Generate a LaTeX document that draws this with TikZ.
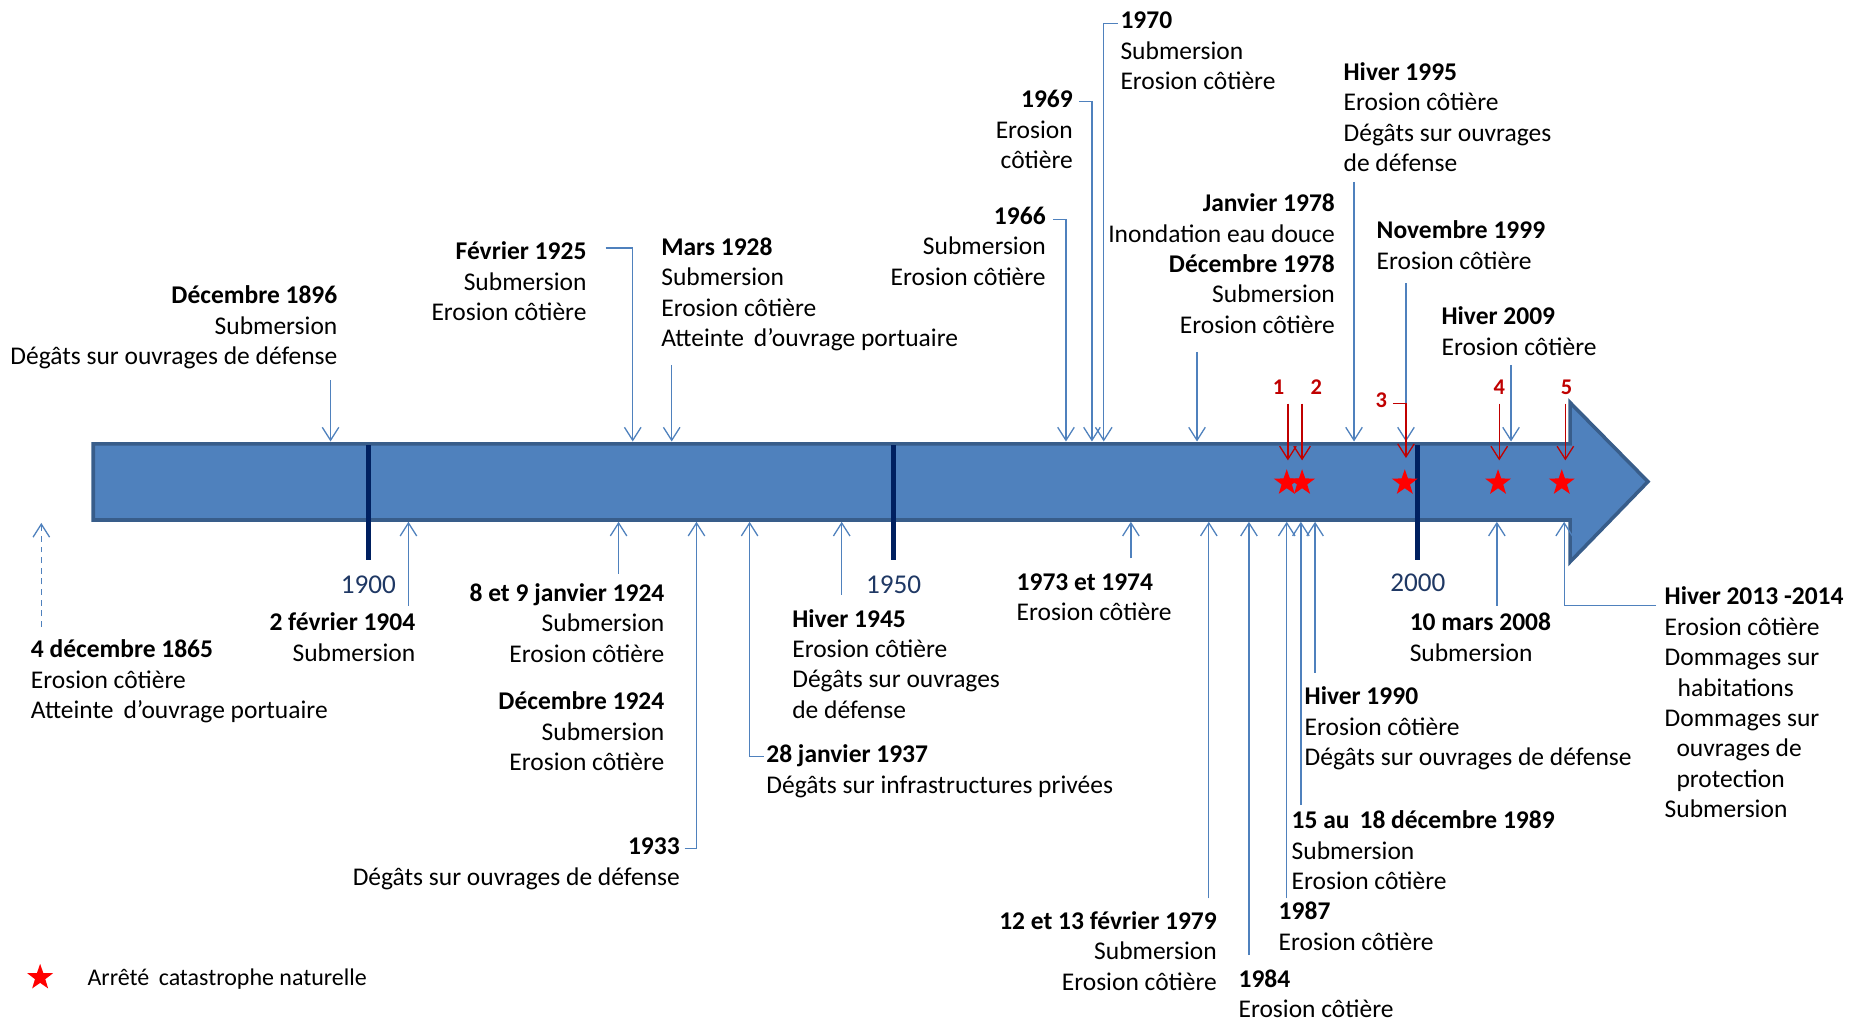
\documentclass[tikz,border=0pt]{standalone}
\usepackage{fontspec}
\setmainfont{Carlito}
\usetikzlibrary{arrows.meta,shapes.geometric}
\definecolor{barfill}{RGB}{79,129,189}
\definecolor{barline}{RGB}{56,93,138}
\definecolor{tickc}{RGB}{0,32,96}
\definecolor{yearc}{RGB}{31,56,100}
\definecolor{connc}{RGB}{79,129,189}
\definecolor{redarr}{RGB}{192,0,0}
\definecolor{starc}{RGB}{255,0,0}
\newcommand\fst{\rule{0pt}{20pt}}
\begin{document}
\begin{tikzpicture}[x=1pt,y=-1pt,
  txt/.style={inner sep=0pt, font=\fontsize{21.6}{25.8}\selectfont},
  tl/.style={txt, anchor=north west, align=left},
  tr/.style={txt, anchor=north east, align=right},
  conn/.style={draw=connc, line width=1.1pt, -{Straight Barb[length=11pt,width=14pt]}},
  rconn/.style={draw=redarr, line width=1.1pt, -{Straight Barb[length=11pt,width=14pt]}},
  yearlbl/.style={inner sep=0pt, font=\fontsize{23}{26}\selectfont, text=yearc},
  numlbl/.style={inner sep=0pt, font=\fontsize{19}{22}\selectfont\bfseries, text=redarr},
  tickline/.style={draw=tickc, line width=4.5pt},
  cstar/.style={star, star points=5, star point ratio=2.5, fill=starc, draw=none, minimum size=23pt, inner sep=0pt}
]
\useasboundingbox (0,0) rectangle (1568,864.05);

% bar arrow
\draw[fill=barfill, draw=barline, line width=3pt, line join=miter]
  (79,376) -- (1330,376) -- (1330,341) -- (1396,408) -- (1330,476) -- (1330,440.5) -- (79,440.5) -- cycle;

% ticks
\draw[tickline] (312,377) -- (312,474);
\draw[tickline] (757,377) -- (757,474);
\draw[tickline] (1201,377) -- (1201,474);
\node[yearlbl] (y1900) at (312,495) {1900};
\node[yearlbl] (y1950) at (757,495) {1950};
\node[yearlbl] (y2000) at (1201,494) {2000};

% ---------- texts above ----------
\node[tr] (t1896) at (286,237) {\fst\textbf{Décembre 1896}\\Submersion\\Dégâts sur ouvrages de défense};
\node[tr] (t1925) at (497,200) {\fst\textbf{Février 1925}\\Submersion\\Erosion côtière};
\node[tl] (t1928) at (560,196) {\fst\textbf{Mars 1928}\\Submersion\\Erosion côtière\\Atteinte \,d’ouvrage portuaire};
\node[tr] (t1966) at (886,170) {\fst\textbf{1966}\\Submersion\\Erosion côtière};
\node[tr] (t1969) at (909,71) {\fst\textbf{1969}\\Erosion\\côtière};
\node[tl] (t1970) at (949,4) {\fst\textbf{1970}\\Submersion\\Erosion côtière};
\node[tr] (t1978) at (1131,159) {\fst\textbf{Janvier 1978}\\Inondation eau douce\\\textbf{Décembre 1978}\\Submersion\\Erosion côtière};
\node[tl] (t1995) at (1138,48) {\fst\textbf{Hiver 1995}\\Erosion côtière\\Dégâts sur ouvrages\\de défense};
\node[tl] (t1999) at (1166,182) {\fst\textbf{Novembre 1999}\\Erosion côtière};
\node[tl] (t2009) at (1221,255) {\fst\textbf{Hiver 2009}\\Erosion côtière};

% ---------- texts below ----------
\node[tl] (t1865) at (26,537) {\fst\textbf{4 décembre 1865}\\Erosion côtière\\Atteinte \,d’ouvrage portuaire};
\node[tr] (t1904) at (352,514) {\fst\textbf{2 février 1904}\\Submersion};
\node[tr] (t1924a) at (563,489) {\fst\textbf{8 et 9 janvier 1924}\\Submersion\\Erosion côtière};
\node[tr] (t1924b) at (563,581) {\fst\textbf{Décembre 1924}\\Submersion\\Erosion côtière};
\node[tr] (t1933) at (576,704) {\fst\textbf{1933}\\Dégâts sur ouvrages de défense};
\node[tl] (t1937) at (649,626) {\fst\textbf{28 janvier 1937}\\Dégâts sur infrastructures privées};
\node[tl] (t1945) at (671,511) {\fst\textbf{Hiver 1945}\\Erosion côtière\\Dégâts sur ouvrages\\de défense};
\node[tl] (t1973) at (861,480) {\fst\textbf{1973 et 1974}\\Erosion côtière};
\node[tr] (t1979) at (1031,767) {\fst\textbf{12 et 13 février 1979}\\Submersion\\Erosion côtière};
\node[tl] (t1984) at (1049,816) {\fst\textbf{1984}\\Erosion côtière};
\node[tl] (t1987) at (1083,759) {\fst\textbf{1987}\\Erosion côtière};
\node[tl] (t1989) at (1094,682) {\fst\textbf{15 au \,18 décembre 1989}\\Submersion\\Erosion côtière};
\node[tl] (t1990) at (1105,577) {\fst\textbf{Hiver 1990}\\Erosion côtière\\Dégâts sur ouvrages de défense};
\node[tl] (t2008) at (1194,514) {\fst\textbf{10 mars 2008}\\Submersion};
\node[tl] (t2013) at (1410,492) {\fst\textbf{Hiver 2013 -2014}\\Erosion côtière\\Dommages sur\\\hspace*{11pt}habitations\\Dommages sur\\\hspace*{10pt}ouvrages de\\\hspace*{10pt}protection\\Submersion};

% ---------- coordinates ----------
% top
\coordinate (a1896s) at (280,322);   \coordinate (a1896e) at (280,374);
\coordinate (a1925s) at (513,210);   \coordinate (a1925e) at (536,374);
\coordinate (a1928s) at (569,309);   \coordinate (a1928e) at (569,374);
\coordinate (a1966s) at (892,186);   \coordinate (a1966e) at (903,374);
\coordinate (a1969s) at (914,86);    \coordinate (a1969e) at (925,374);
\coordinate (a1970s) at (947,20);    \coordinate (a1970e) at (935,374);
\coordinate (a1978s) at (1014,298);  \coordinate (a1978e) at (1014,374);
\coordinate (a1995s) at (1147,154);  \coordinate (a1995e) at (1147,374);
\coordinate (a1999s) at (1191,240);  \coordinate (a1999e) at (1191,374);
\coordinate (a2009s) at (1280,309);  \coordinate (a2009e) at (1280,374);
% red
\coordinate (r1s) at (1091,342); \coordinate (r1e) at (1091,390);
\coordinate (r2s) at (1103,342); \coordinate (r2e) at (1103,390);
\coordinate (r3s) at (1180,342); \coordinate (r3e) at (1191,388);
\coordinate (r4s) at (1270,342); \coordinate (r4e) at (1270,390);
\coordinate (r5s) at (1326,342); \coordinate (r5e) at (1326,390);
% bottom
\coordinate (b1865s) at (35,531);   \coordinate (b1865e) at (35,443);
\coordinate (b1904s) at (346,513);  \coordinate (b1904e) at (346,442);
\coordinate (b1924s) at (524,486);  \coordinate (b1924e) at (524,442);
\coordinate (b1933s) at (580,719);  \coordinate (b1933e) at (590,442);
\coordinate (b1937s) at (647,641);  \coordinate (b1937e) at (635,442);
\coordinate (b1945s) at (713,504);  \coordinate (b1945e) at (713,442);
\coordinate (b1973s) at (958,473);  \coordinate (b1973e) at (958,442);
\coordinate (b1979s) at (1024,761); \coordinate (b1979e) at (1024,442);
\coordinate (b1984s) at (1058,809); \coordinate (b1984e) at (1058,442);
\coordinate (b1987s) at (1090,761); \coordinate (b1987e) at (1090,442);
\coordinate (b1989s) at (1102,682); \coordinate (b1989e) at (1102,442);
\coordinate (b1990s) at (1114,570); \coordinate (b1990e) at (1114,442);
\coordinate (b2008s) at (1268,513); \coordinate (b2008e) at (1268,442);
\coordinate (b2013s) at (1403,513); \coordinate (b2013e) at (1325,442);

% ---------- connectors ----------
\draw[conn] (a1896s) -- (a1896e);
\draw[conn] (a1925s) -| (a1925e);
\draw[conn] (a1928s) -- (a1928e);
\draw[conn] (a1966s) -| (a1966e);
\draw[conn] (a1969s) -| (a1969e);
\draw[conn] (a1970s) -| (a1970e);
\draw[conn] (a1978s) -- (a1978e);
\draw[conn] (a1995s) -- (a1995e);
\draw[conn] (a1999s) -- (a1999e);
\draw[conn] (a2009s) -- (a2009e);

\draw[conn, dashed, dash pattern=on 5pt off 4pt] (b1865s) -- (b1865e);
\draw[conn] (b1904s) -- (b1904e);
\draw[conn] (b1924s) -- (b1924e);
\draw[conn] (b1933s) -| (b1933e);
\draw[conn] (b1937s) -| (b1937e);
\draw[conn] (b1945s) -- (b1945e);
\draw[conn] (b1973s) -- (b1973e);
\draw[conn] (b1979s) -- (b1979e);
\draw[conn] (b1984s) -- (b1984e);
\draw[conn] (b1987s) -- (b1987e);
\draw[conn] (b1989s) -- (b1989e);
\draw[conn] (b1990s) -- (b1990e);
\draw[conn] (b2008s) -- (b2008e);
\draw[conn] (b2013s) -| (b2013e);

% stars
\node[cstar] (s1) at (1090,409) {};
\node[cstar] (s2) at (1103,409) {};
\node[cstar] (s3) at (1190,409) {};
\node[cstar] (s4) at (1269,409) {};
\node[cstar] (s5) at (1323,409) {};

% red arrows and numbers
\draw[rconn] (r1s) -- (r1e);
\draw[rconn] (r2s) -- (r2e);
\draw[rconn] (r3s) -| (r3e);
\draw[rconn] (r4s) -- (r4e);
\draw[rconn] (r5s) -- (r5e);
\node[numlbl] (n1) at (1083,328) {1};
\node[numlbl] (n2) at (1115,328) {2};
\node[numlbl] (n3) at (1170,339) {3};
\node[numlbl] (n4) at (1270,328) {4};
\node[numlbl] (n5) at (1327,328) {5};

% legend
\node[cstar] (lstar) at (34,828) {};
\node[inner sep=0pt, anchor=west, font=\fontsize{20.3}{24}\selectfont] (ltext) at (74,829) {Arrêté \,catastrophe naturelle};
\end{tikzpicture}
\end{document}
